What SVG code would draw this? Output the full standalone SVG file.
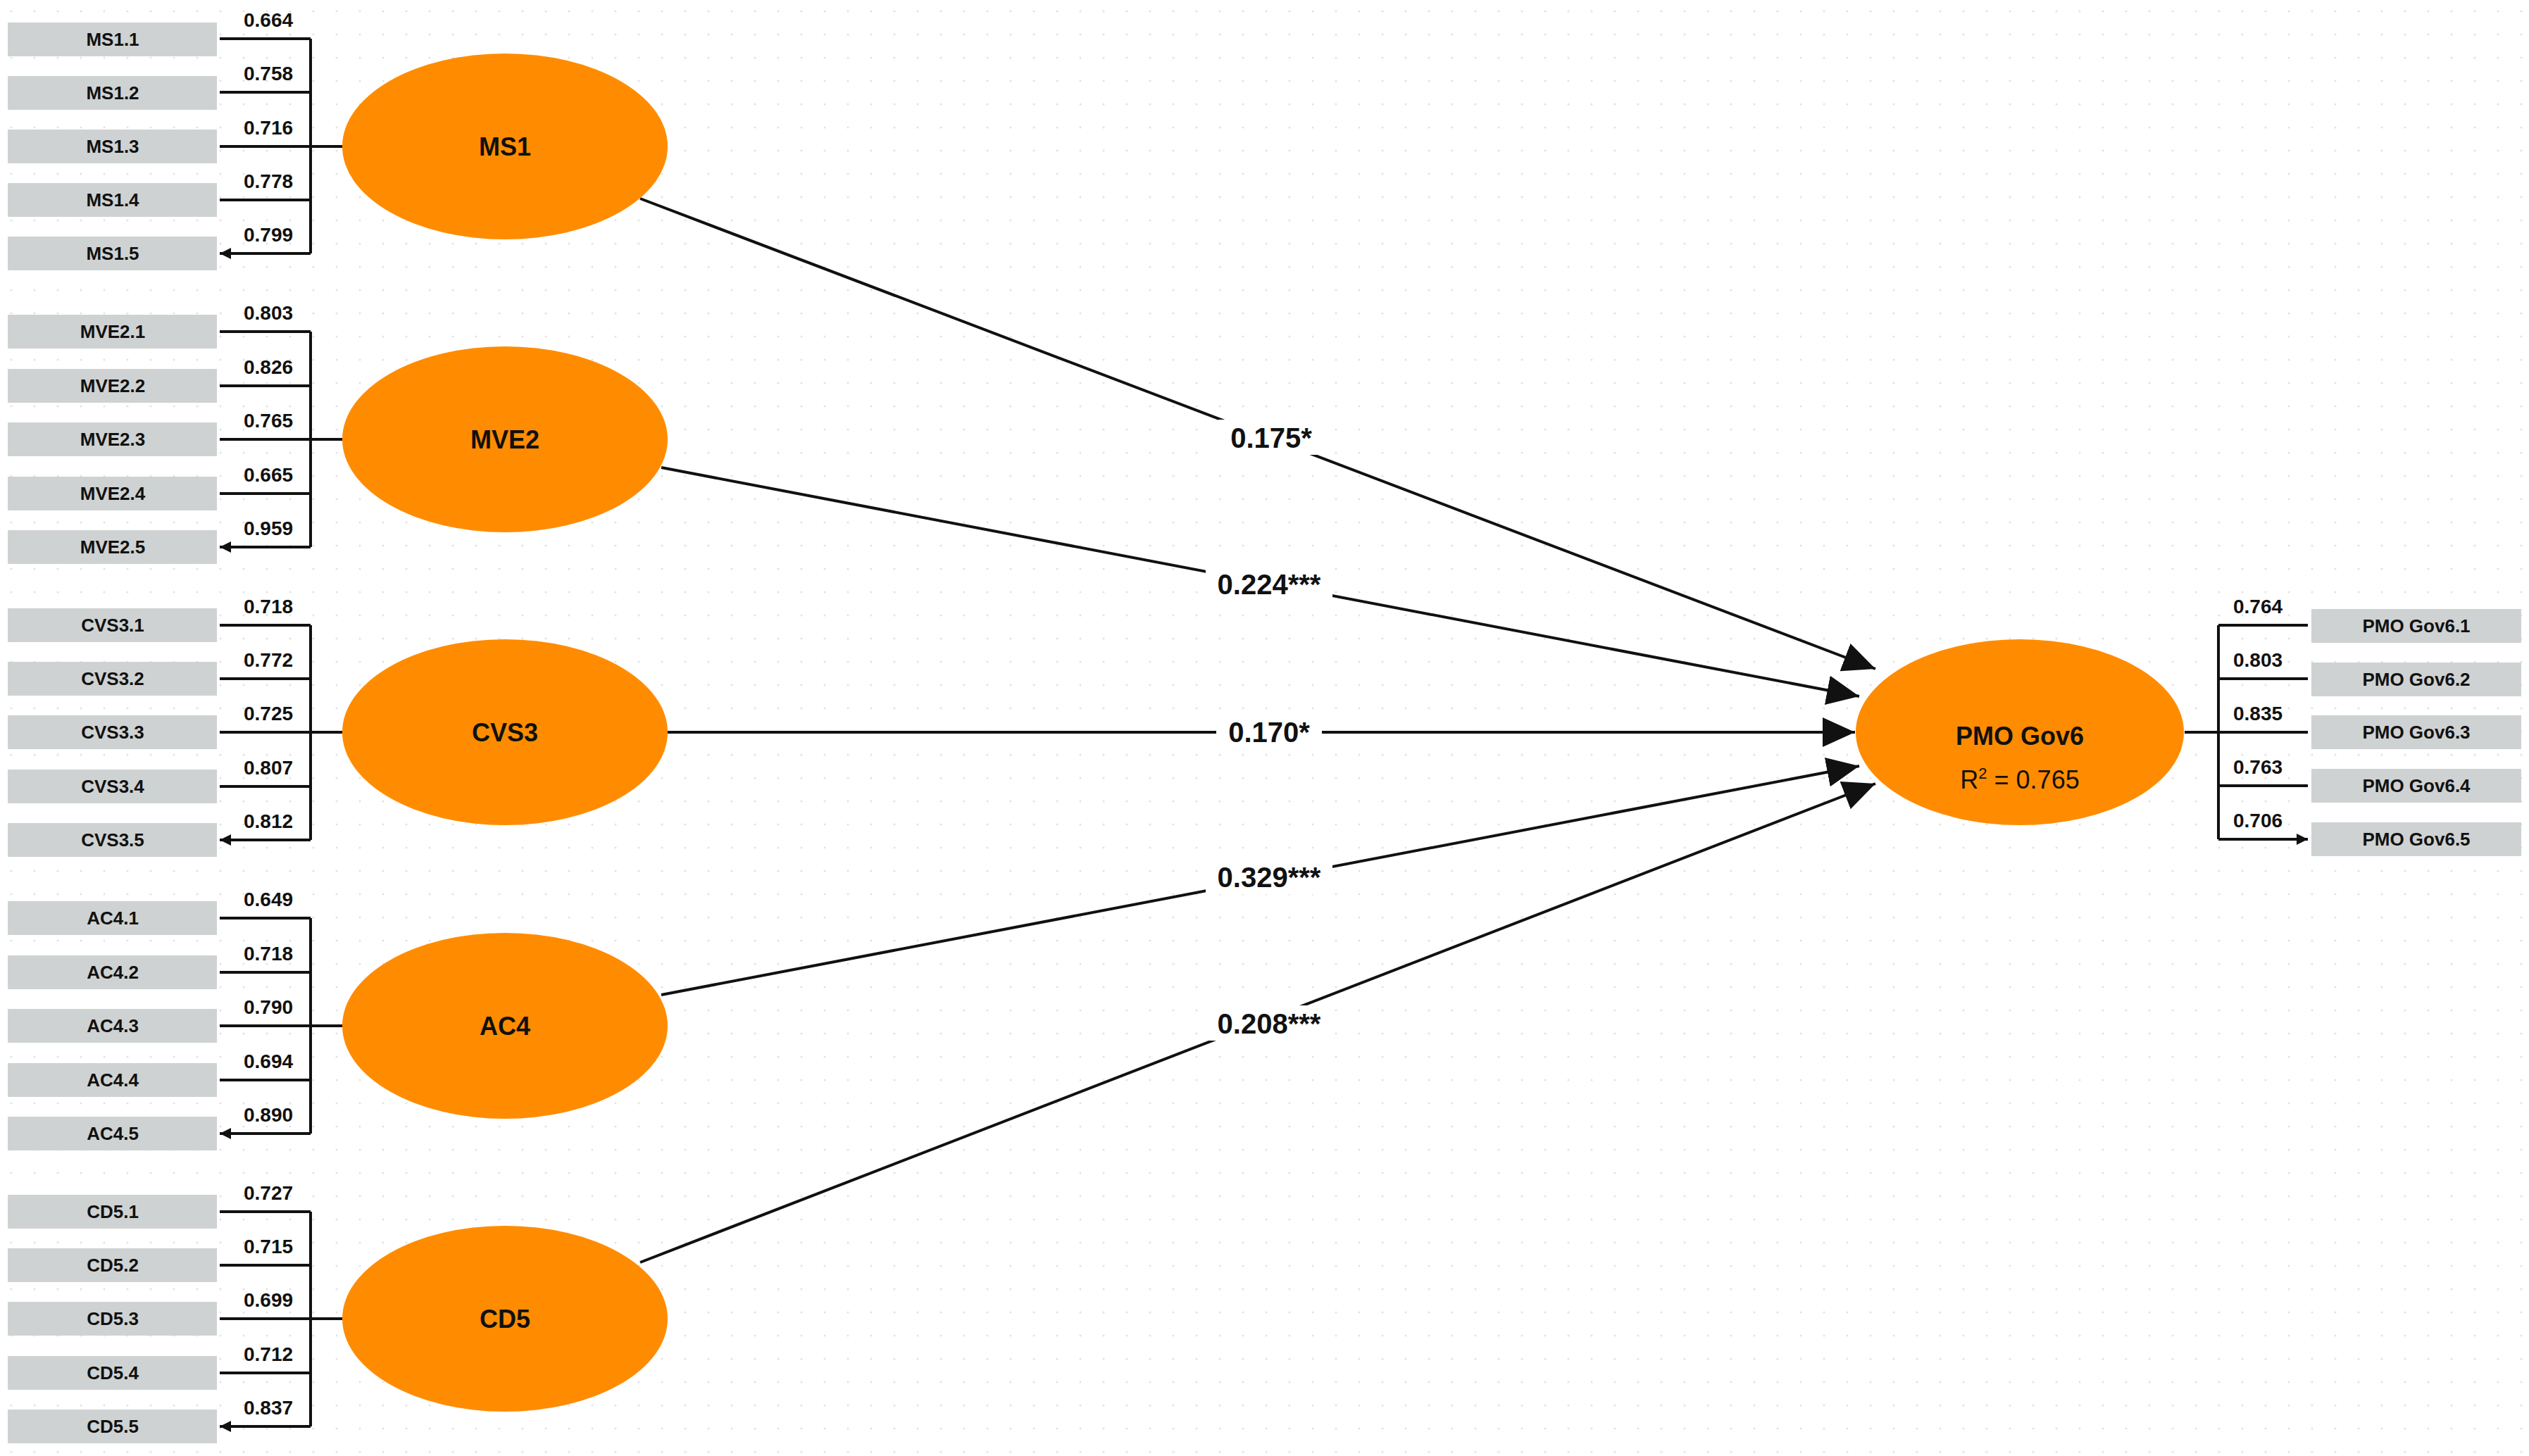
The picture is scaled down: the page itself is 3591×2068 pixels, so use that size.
<svg xmlns="http://www.w3.org/2000/svg" width="3591" height="2068" viewBox="0 0 3591 2068">
<defs>
<style>
.box{fill:#cfd2d2}
.bt{font-family:"Liberation Sans",Arial,sans-serif;font-weight:bold;font-size:26px;text-anchor:middle;fill:#111}
.ld{font-family:"Liberation Sans",Arial,sans-serif;font-weight:bold;font-size:28px;text-anchor:middle;fill:#111}
.lv{fill:#ff8c00}
.lt{font-family:"Liberation Sans",Arial,sans-serif;font-weight:bold;font-size:36px;text-anchor:middle;fill:#111}
.ln{stroke:#111;stroke-width:4;fill:none}
.pl{font-family:"Liberation Sans",Arial,sans-serif;font-weight:bold;font-size:40px;text-anchor:middle;fill:#111}
</style>
<marker id="sa" viewBox="0 0 10 10" refX="10" refY="5" markerWidth="16" markerHeight="16" markerUnits="userSpaceOnUse" orient="auto"><path d="M0,0L10,5L0,10z" fill="#111"/></marker>
<marker id="ba" viewBox="0 0 10 10" refX="10" refY="5" markerWidth="46" markerHeight="42" markerUnits="userSpaceOnUse" orient="auto" preserveAspectRatio="none"><path d="M0,0L10,5L0,10z" fill="#111"/></marker>
<pattern id="dots" width="33" height="33" patternUnits="userSpaceOnUse"><circle cx="16" cy="16" r="1.5" fill="#e2e2e2"/></pattern>
</defs>
<rect width="3591" height="2068" fill="#fff"/>
<rect width="3591" height="2068" fill="url(#dots)"/>
<g id="connectors">
<path class="ln" d="M441,55V360M441,471V777M441,888V1193M441,1304V1610M441,1721V2026"/>
<g marker-end="url(#sa)">
<path class="ln" d="M441,55H312M441,131H312M441,208H312M441,284H312M441,360H312"/>
<path class="ln" d="M441,471H312M441,548H312M441,624H312M441,701H312M441,777H312"/>
<path class="ln" d="M441,888H312M441,964H312M441,1040H312M441,1117H312M441,1193H312"/>
<path class="ln" d="M441,1304H312M441,1381H312M441,1457H312M441,1534H312M441,1610H312"/>
<path class="ln" d="M441,1721H312M441,1797H312M441,1873H312M441,1950H312M441,2026H312"/>
<path class="ln" d="M3150,888H3277M3150,964H3277M3150,1040H3277M3150,1116H3277M3150,1192H3277"/>
</g>
<path class="ln" d="M486,208H441M486,624H441M486,1040H441M486,1457H441M486,1873H441M3150,888V1192M3102,1040H3150"/>
<g marker-end="url(#ba)">
<path class="ln" d="M909,282L2663,950"/>
<path class="ln" d="M939,664L2640,989"/>
<path class="ln" d="M946,1040L2634,1040"/>
<path class="ln" d="M939,1413L2640,1088"/>
<path class="ln" d="M909,1793L2663,1113"/>
</g>
<g fill="#fff">
<rect x="1730" y="596" width="150" height="50"/>
<rect x="1712" y="804" width="180" height="50"/>
<rect x="1727" y="1014" width="150" height="50"/>
<rect x="1712" y="1220" width="180" height="50"/>
<rect x="1712" y="1428" width="180" height="50"/>
</g>
<text class="pl" x="1805" y="636">0.175*</text>
<text class="pl" x="1802" y="844">0.224***</text>
<text class="pl" x="1802" y="1054">0.170*</text>
<text class="pl" x="1802" y="1260">0.329***</text>
<text class="pl" x="1802" y="1468">0.208***</text>
<g class="ld">
<text x="381" y="38">0.664</text><text x="381" y="114">0.758</text><text x="381" y="191">0.716</text><text x="381" y="267">0.778</text><text x="381" y="343">0.799</text>
<text x="381" y="454">0.803</text><text x="381" y="531">0.826</text><text x="381" y="607">0.765</text><text x="381" y="684">0.665</text><text x="381" y="760">0.959</text>
<text x="381" y="871">0.718</text><text x="381" y="947">0.772</text><text x="381" y="1023">0.725</text><text x="381" y="1100">0.807</text><text x="381" y="1176">0.812</text>
<text x="381" y="1287">0.649</text><text x="381" y="1364">0.718</text><text x="381" y="1440">0.790</text><text x="381" y="1517">0.694</text><text x="381" y="1593">0.890</text>
<text x="381" y="1704">0.727</text><text x="381" y="1780">0.715</text><text x="381" y="1856">0.699</text><text x="381" y="1933">0.712</text><text x="381" y="2009">0.837</text>
<text x="3206" y="871">0.764</text><text x="3206" y="947">0.803</text><text x="3206" y="1023">0.835</text><text x="3206" y="1099">0.763</text><text x="3206" y="1175">0.706</text>
</g>
</g>
<g id="indicators">
<g class="box">
<rect x="11" y="32" width="297" height="48"/><rect x="11" y="108" width="297" height="48"/><rect x="11" y="184" width="297" height="48"/><rect x="11" y="260" width="297" height="48"/><rect x="11" y="336" width="297" height="48"/>
<rect x="11" y="447" width="297" height="48"/><rect x="11" y="524" width="297" height="48"/><rect x="11" y="600" width="297" height="48"/><rect x="11" y="677" width="297" height="48"/><rect x="11" y="753" width="297" height="48"/>
<rect x="11" y="864" width="297" height="48"/><rect x="11" y="940" width="297" height="48"/><rect x="11" y="1016" width="297" height="48"/><rect x="11" y="1093" width="297" height="48"/><rect x="11" y="1169" width="297" height="48"/>
<rect x="11" y="1280" width="297" height="48"/><rect x="11" y="1357" width="297" height="48"/><rect x="11" y="1433" width="297" height="48"/><rect x="11" y="1510" width="297" height="48"/><rect x="11" y="1586" width="297" height="48"/>
<rect x="11" y="1697" width="297" height="48"/><rect x="11" y="1773" width="297" height="48"/><rect x="11" y="1849" width="297" height="48"/><rect x="11" y="1926" width="297" height="48"/><rect x="11" y="2002" width="297" height="48"/>
<rect x="3282" y="865" width="298" height="48"/><rect x="3282" y="941" width="298" height="48"/><rect x="3282" y="1016" width="298" height="48"/><rect x="3282" y="1092" width="298" height="48"/><rect x="3282" y="1168" width="298" height="48"/>
</g>
<g class="bt">
<text x="160" y="65">MS1.1</text><text x="160" y="141">MS1.2</text><text x="160" y="217">MS1.3</text><text x="160" y="293">MS1.4</text><text x="160" y="369">MS1.5</text>
<text x="160" y="480">MVE2.1</text><text x="160" y="557">MVE2.2</text><text x="160" y="633">MVE2.3</text><text x="160" y="710">MVE2.4</text><text x="160" y="786">MVE2.5</text>
<text x="160" y="897">CVS3.1</text><text x="160" y="973">CVS3.2</text><text x="160" y="1049">CVS3.3</text><text x="160" y="1126">CVS3.4</text><text x="160" y="1202">CVS3.5</text>
<text x="160" y="1313">AC4.1</text><text x="160" y="1390">AC4.2</text><text x="160" y="1466">AC4.3</text><text x="160" y="1543">AC4.4</text><text x="160" y="1619">AC4.5</text>
<text x="160" y="1730">CD5.1</text><text x="160" y="1806">CD5.2</text><text x="160" y="1882">CD5.3</text><text x="160" y="1959">CD5.4</text><text x="160" y="2035">CD5.5</text>
<text x="3431" y="898">PMO Gov6.1</text><text x="3431" y="974">PMO Gov6.2</text><text x="3431" y="1049">PMO Gov6.3</text><text x="3431" y="1125">PMO Gov6.4</text><text x="3431" y="1201">PMO Gov6.5</text>
</g>
</g>
<g id="MS1"><ellipse class="lv" cx="717" cy="208" rx="231" ry="132"/><text class="lt" x="717" y="221">MS1</text></g>
<g id="MVE2"><ellipse class="lv" cx="717" cy="624" rx="231" ry="132"/><text class="lt" x="717" y="637">MVE2</text></g>
<g id="CVS3"><ellipse class="lv" cx="717" cy="1040" rx="231" ry="132"/><text class="lt" x="717" y="1053">CVS3</text></g>
<g id="AC4"><ellipse class="lv" cx="717" cy="1457" rx="231" ry="132"/><text class="lt" x="717" y="1470">AC4</text></g>
<g id="CD5"><ellipse class="lv" cx="717" cy="1873" rx="231" ry="132"/><text class="lt" x="717" y="1886">CD5</text></g>
<g id="PMOGov6"><ellipse class="lv" cx="2868" cy="1040" rx="233" ry="132"/><text class="lt" x="2868" y="1058">PMO Gov6</text><text x="2868" y="1120" font-family="Liberation Sans,Arial,sans-serif" font-size="36" text-anchor="middle" fill="#111">R<tspan font-size="22" dy="-14">2</tspan><tspan dy="14"> = 0.765</tspan></text></g>
</svg>
